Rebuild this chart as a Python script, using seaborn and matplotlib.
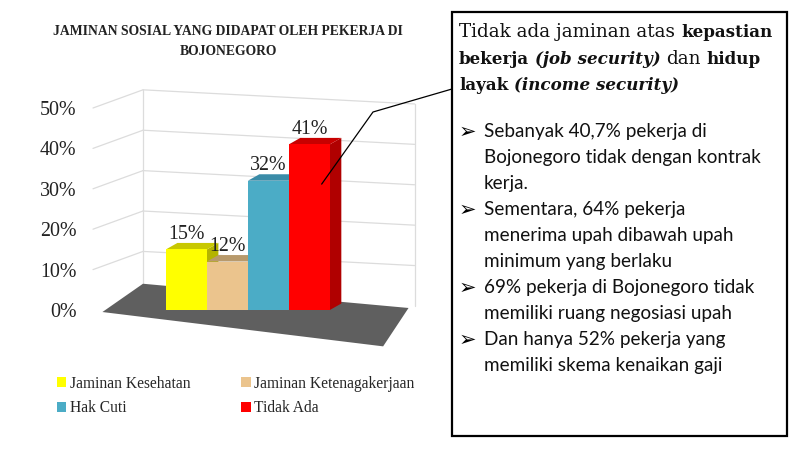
import numpy as np
import matplotlib
matplotlib.use("Agg")
import matplotlib.pyplot as plt
import seaborn as sns
from matplotlib.patches import Polygon, Rectangle, Patch
from matplotlib.lines import Line2D
from matplotlib.transforms import IdentityTransform

# data
categories = ["Jaminan Kesehatan", "Jaminan Ketenagakerjaan", "Hak Cuti", "Tidak Ada"]
values = [0.15, 0.12, 0.32, 0.41]
front_colors = ["#FFFF00", "#EBC48D", "#4BACC6", "#FF0000"]
top_colors = ["#C8C800", "#B89A6C", "#3A8CA8", "#C80000"]
side_colors = ["#B4B400", "#A88A5E", "#2F7A94", "#B00000"]
yticks = [0.0, 0.1, 0.2, 0.3, 0.4, 0.5]
title = "JAMINAN SOSIAL YANG DIDAPAT OLEH PEKERJA DI\nBOJONEGORO"

heading_lines = [
    [("Tidak ada jaminan atas", "normal", "normal"), ("kepastian", "bold", "normal")],
    [("bekerja", "bold", "normal"), ("(job security)", "bold", "italic"),
     ("dan", "normal", "normal"), ("hidup", "bold", "normal")],
    [("layak", "bold", "normal"), ("(income security)", "bold", "italic")],
]
bullets = [
    ["Sebanyak 40,7% pekerja di", "Bojonegoro tidak dengan kontrak", "kerja."],
    ["Sementara, 64% pekerja", "menerima upah dibawah upah", "minimum yang berlaku"],
    ["69% pekerja di Bojonegoro tidak", "memiliki ruang negosiasi upah"],
    ["Dan hanya 52% pekerja yang", "memiliki skema kenaikan gaji"],
]

sns.set_theme(style="white")
plt.rcParams["font.family"] = ["Liberation Serif", "DejaVu Serif"]

W, H = 800, 450
fig = plt.figure(figsize=(8, 4.5), dpi=100)
fig.patch.set_facecolor("white")

# axes placed in pixels: y 0 -> 310px from top, 0.5 -> 108px
ax = fig.add_axes([93 / W, 140 / H, 327 / W, 202 / H])
ax.set_xlim(-2.28, 5.7)
ax.set_ylim(0, 0.5)
for s in ax.spines.values():
    s.set_visible(False)
ax.set_facecolor("none")
ax.set_xticks([])
ax.set_yticks(yticks)
ax.set_yticklabels([f"{t:.0%}" for t in yticks], fontsize=14.4, color="#222222")
ax.tick_params(axis="y", length=0, pad=12)

# back wall + side wall grid
wl, wr, Dy, slope = -1.06, 5.57, 0.045, 0.035
grid_c = "#dcdcdc"
for t in yticks[1:]:
    ax.plot([wl, wr], [t + Dy, t + Dy - slope], color=grid_c, lw=0.9, zorder=1, clip_on=False)
    ax.plot([-2.28, wl], [t, t + Dy], color=grid_c, lw=0.9, zorder=1, clip_on=False)
ax.plot([wl, wl], [0.06, 0.5 + Dy], color=grid_c, lw=0.9, zorder=1, clip_on=False)
ax.plot([wr, wr], [Dy - slope, 0.5 + Dy - slope], color=grid_c, lw=0.9, zorder=1, clip_on=False)

# floor
floor = Polygon([(-2.05, -0.005), (wl, 0.065), (wr - 0.15, 0.005), (4.8, -0.09)],
                closed=True, facecolor="#5f5f5f", edgecolor="none", zorder=1.5, clip_on=False)
ax.add_patch(floor)

# front faces
sns.barplot(x=categories, y=values, hue=categories, palette=front_colors,
            width=1.0, saturation=1, legend=False, ax=ax)
ax.set_xlim(-2.28, 5.7)
ax.set_ylim(0, 0.5)
ax.set_xlabel("")
ax.set_ylabel("")

ddx, ddy = 0.28, 0.016
bars = sorted([p for p in ax.patches if p is not floor], key=lambda p: p.get_x())
for i, p in enumerate(bars):
    x0, w, h = p.get_x(), p.get_width(), p.get_height()
    p.set_zorder(3 + i)
    p.set_edgecolor("none")
    p.set_clip_on(False)
    top = Polygon([(x0, h), (x0 + w, h), (x0 + w + ddx, h + ddy), (x0 + ddx, h + ddy)],
                  facecolor=top_colors[i], edgecolor="none", zorder=2.9 + i, clip_on=False)
    side = Polygon([(x0 + w, 0), (x0 + w + ddx, ddy), (x0 + w + ddx, h + ddy), (x0 + w, h)],
                   facecolor=side_colors[i], edgecolor="none", zorder=2.8 + i, clip_on=False)
    ax.add_patch(top)
    ax.add_patch(side)
    ax.text(x0 + w / 2, h + ddy - 0.002, f"{h:.0%}", ha="center", va="bottom",
            fontsize=14.4, color="#222222", zorder=10)

# title
fig.text(228 / W, 1 - 41.5 / H, title, ha="center", va="center", fontsize=9.8,
         weight="bold", linespacing=1.75, color="#222222")

# legend
order = [0, 2, 1, 3]
handles = [Patch(facecolor=front_colors[k], edgecolor="none") for k in order]
labels = [categories[k] for k in order]
fig.legend(handles, labels, ncol=2, loc="upper left", bbox_to_anchor=(49 / W, 1 - 368 / H),
           frameon=False, fontsize=11.2, handlelength=0.6, handleheight=0.6,
           handletextpad=0.25, columnspacing=3.25, labelspacing=0.55, borderpad=0)

# text box
fig.add_artist(Rectangle((452 / W, 1 - 436 / H), 335 / W, 424 / H, transform=fig.transFigure,
                         fill=False, edgecolor="black", lw=1.6))

# connector from red bar to box
red = bars[3]
fig.canvas.draw()
sx, sy = ax.transData.transform((red.get_x() + 0.8 * red.get_width(), red.get_height() * 0.76))
fig.add_artist(Line2D([sx, 373, 452], [sy, H - 112, H - 89], transform=IdentityTransform(),
                      color="black", lw=0.9))

renderer = fig.canvas.get_renderer()


def text_width(s, **kw):
    t = fig.text(0, 0, s, transform=IdentityTransform(), **kw)
    w = t.get_window_extent(renderer).width
    t.remove()
    return w


def draw_runs(x, y, runs, family):
    for j, (s, weight, style) in enumerate(runs):
        size = 13.2 if weight == "normal" else 12.1
        kw = dict(fontsize=size, family=family, weight=weight, style=style)
        if j > 0:
            x += text_width("x x", **kw) - text_width("xx", **kw)
        fig.text(x, y, s, transform=IdentityTransform(), va="baseline", color="#111111", **kw)
        x += text_width(s, **kw)


head_family = ["DejaVu Serif"]
for k, runs in enumerate(heading_lines):
    draw_runs(459, H - (37 + 26.5 * k), runs, head_family)

body_family = ["Lato", "DejaVu Sans"]
line_y = 132
for item in bullets:
    fig.text(459, H - line_y, "\u27A2", transform=IdentityTransform(), va="center",
             fontsize=15, family=["DejaVu Sans"], color="#000000")
    for line in item:
        fig.text(484, H - line_y, line, transform=IdentityTransform(), va="center",
                 fontsize=13.6, family=body_family, color="#111111")
        line_y += 26

fig.savefig("out.png", dpi=100)
